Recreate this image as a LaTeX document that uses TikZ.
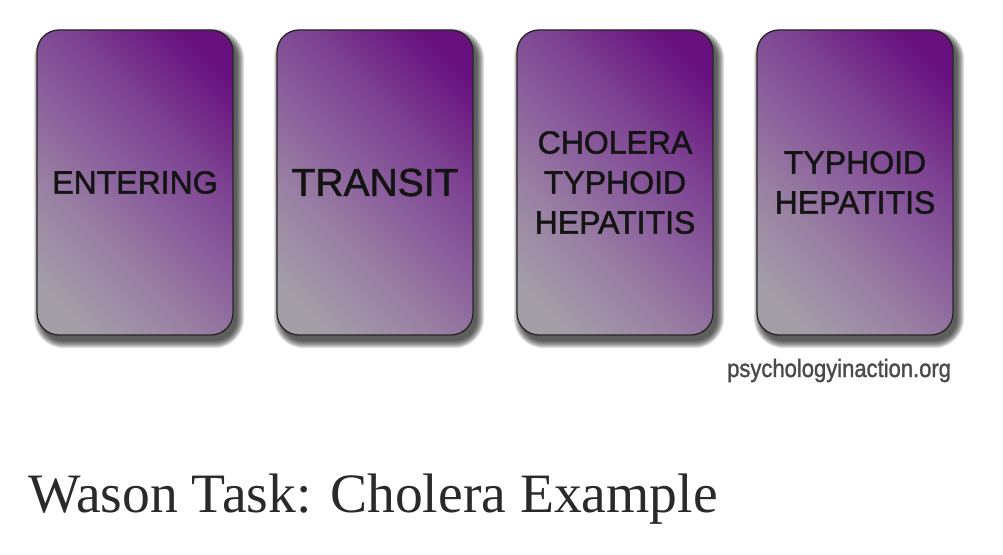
\documentclass[tikz,border=0pt]{standalone}
\usepackage{fontspec}
\setmainfont{Liberation Serif}
\newfontfamily\cardfont[FakeBold=1.6]{Liberation Sans}
\newfontfamily\wmfont[FakeBold=1.4]{Liberation Sans}
\definecolor{cA}{HTML}{A39DA8}
\definecolor{cB}{HTML}{9A82A3}
\definecolor{cC}{HTML}{8A5E9C}
\definecolor{cD}{HTML}{7D4292}
\definecolor{cE}{HTML}{68107E}
\definecolor{capgray}{HTML}{2A2A2A}
\definecolor{wmgray}{HTML}{4A4A4A}
\pgfdeclareverticalshading{cardshade}{100bp}{color(0bp)=(cA); color(22bp)=(cA); color(36bp)=(cB); color(50bp)=(cC); color(62bp)=(cD); color(78bp)=(cE); color(100bp)=(cE)}
\tikzset{
  card/.style={minimum width=196pt, minimum height=305pt, inner sep=0pt,
    rounded corners=22pt, draw=black!85, line width=1.3pt,
    shading=cardshade, shading angle=-45, text=black!92, align=center,
    font=\cardfont\fontsize{32}{40}\selectfont},
  shadowlayer/.style={fill=black, fill opacity=0.1, draw=none}
}
\begin{document}
\begin{tikzpicture}[x=1pt,y=-1pt]
\useasboundingbox (0,0) rectangle (1003,554);
\fill[white] (0,0) rectangle (1003,554);
% soft shadows
\foreach \cx in {135,375,615,855}{
  \foreach \i in {0,...,8}{
    \fill[shadowlayer, rounded corners=22pt+\i pt]
      (\cx-98+4-\i*0.9, 30+6-\i*0.9) rectangle (\cx+98+4+\i*0.9, 335+6+\i*0.9);
  }
}
\node[card] (c1) at (135,182.5) {ENTERING};
\node[card, font=\cardfont\fontsize{39}{40}\selectfont] (c2) at (375,182.5) {TRANSIT};
\node[card] (c3) at (615,182.5) {CHOLERA\\TYPHOID\\HEPATITIS};
\node[card] (c4) at (855,182.5) {TYPHOID\\HEPATITIS};
\node[anchor=base west, inner sep=0pt, text=wmgray,
      font=\wmfont\fontsize{25}{25}\selectfont] (wm) at (727,377)
      {\scalebox{0.88}[1]{psychologyinaction.org}};
\node[anchor=base west, inner sep=0pt, text=capgray,
      font=\fontsize{55.6}{56}\selectfont] (cap) at (28,512)
      {Wason Task: Cholera Example};
\end{tikzpicture}
\end{document}
